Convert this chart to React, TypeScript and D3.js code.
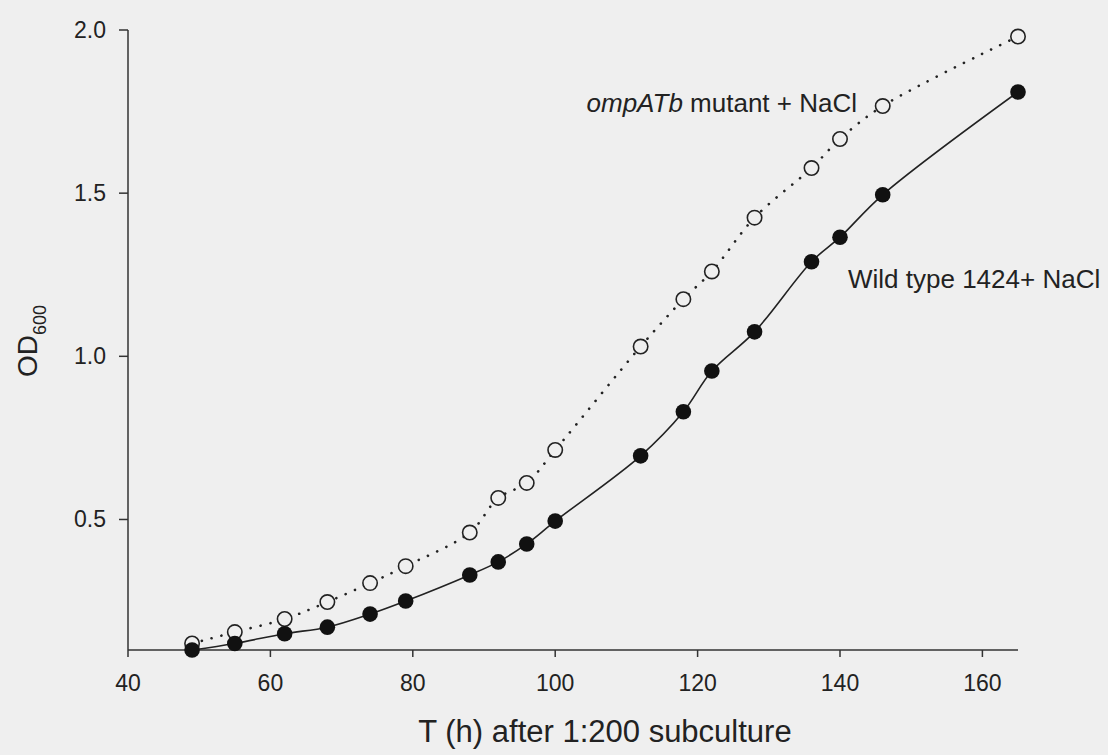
import React from "react";
import * as d3 from "d3";

// hours after subculture
const hours = [49, 55, 62, 68, 74, 79, 88, 92, 96, 100, 112, 118, 122, 128, 136, 140, 146, 165];
// OD600, wild type 1424 + NaCl (filled)
const wildType = [0.1, 0.12, 0.15, 0.17, 0.21, 0.25, 0.33, 0.37, 0.425, 0.495, 0.695, 0.83, 0.955, 1.075, 1.29, 1.365, 1.495, 1.81];
// OD600, ompATb mutant + NaCl (open)
const mutant = [0.12, 0.155, 0.195, 0.247, 0.305, 0.357, 0.46, 0.566, 0.612, 0.713, 1.03, 1.175, 1.26, 1.425, 1.577, 1.666, 1.767, 1.98];

const xTicks = [40, 60, 80, 100, 120, 140, 160];
const yTicks = [0.5, 1.0, 1.5, 2.0];

const W = 1108;
const H = 755;
const BG = "#efefef";
const INK = "#222";
const FONT = "'Liberation Sans', Arial, Helvetica, sans-serif";

function App() {
  const x = d3.scaleLinear().domain([40, 165]).range([128, 1018]);
  const y = d3.scaleLinear().domain([0.1, 2.0]).range([650, 30]);

  const line = d3
    .line<number>()
    .x((_, i) => x(hours[i]))
    .y((v) => y(v))
    .curve(d3.curveCatmullRom.alpha(0.5));

  return (
    <div style={{ position: "fixed", left: 0, top: 0, width: W, height: H, background: BG }}>
      <svg width={W} height={H} style={{ display: "block", fontFamily: FONT }}>
        <rect width={W} height={H} fill={BG} />

        {/* axes */}
        <line x1={x(40)} x2={x(165)} y1={650} y2={650} stroke="#333" strokeWidth={1.5} />
        <line x1={128} x2={128} y1={y(2.0)} y2={650} stroke="#333" strokeWidth={1.5} />
        {xTicks.map((t) => (
          <g key={t}>
            <line x1={x(t)} x2={x(t)} y1={650} y2={657} stroke="#333" strokeWidth={1.5} />
            <text x={x(t)} y={691} textAnchor="middle" fontSize={23} fill={INK}>
              {t}
            </text>
          </g>
        ))}
        {yTicks.map((t) => (
          <g key={t}>
            <line x1={119} x2={128} y1={y(t)} y2={y(t)} stroke="#333" strokeWidth={1.5} />
            <text x={106} y={y(t) + 8} textAnchor="end" fontSize={23} fill={INK}>
              {t.toFixed(1)}
            </text>
          </g>
        ))}

        {/* axis titles */}
        <text x={605} y={742} textAnchor="middle" fontSize={31} fill={INK}>
          T (h) after 1:200 subculture
        </text>
        <text transform="translate(37,377) rotate(-90)" fontSize={28} fill={INK}>
          OD
          <tspan fontSize={18} dy={9}>600</tspan>
        </text>

        {/* series lines */}
        <path d={line(mutant) || ""} fill="none" stroke={INK} strokeWidth={2.6}
          strokeDasharray="0.1 10" strokeLinecap="round" />
        <path d={line(wildType) || ""} fill="none" stroke={INK} strokeWidth={1.6} />

        {/* markers */}
        {mutant.map((v, i) => (
          <circle key={"m" + i} cx={x(hours[i])} cy={y(v)} r={7.2} fill={BG} stroke={INK} strokeWidth={1.6} />
        ))}
        {wildType.map((v, i) => (
          <circle key={"w" + i} cx={x(hours[i])} cy={y(v)} r={7.8} fill="#111" />
        ))}

        {/* labels */}
        <text x={857} y={112} textAnchor="end" fontSize={26} fill={INK}>
          <tspan fontStyle="italic">ompATb</tspan> mutant + NaCl
        </text>
        <text x={848} y={288} fontSize={26} fill={INK}>
          Wild type 1424+ NaCl
        </text>
      </svg>
    </div>
  );
}

export default App;
